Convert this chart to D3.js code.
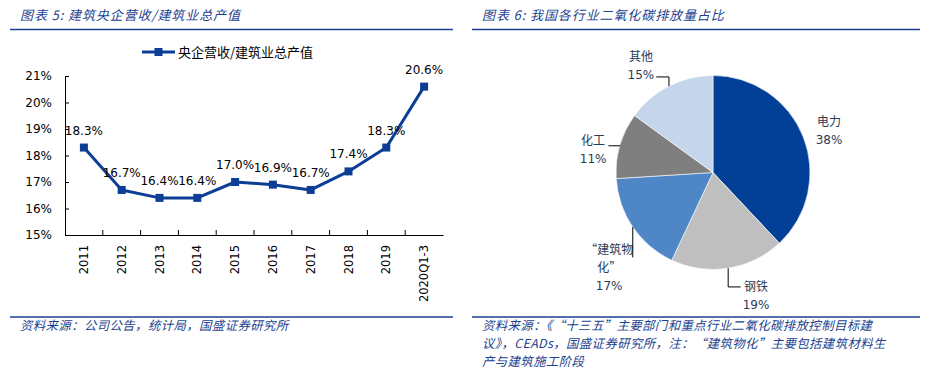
<!DOCTYPE html>
<html>
<head>
<meta charset="utf-8">
<script src="https://cdn.jsdelivr.net/npm/d3@7"></script>
<style>
  body { margin: 0; background: #fff; }
  svg { display: block; }
</style>
</head>
<body>
<div id="chart"></div>
<script>
// left chart: line
const categories = ["2011", "2012", "2013", "2014", "2015", "2016", "2017", "2018", "2019", "2020Q1-3"];
const ratioValues = [18.3, 16.7, 16.4, 16.4, 17.0, 16.9, 16.7, 17.4, 18.3, 20.6];
const yTicks = [15, 16, 17, 18, 19, 20, 21];
const seriesName = "央企营收/建筑业总产值";

// right chart: pie
const sectors = ["电力", "钢铁", "“建筑物化”", "化工", "其他"];
const sectorShares = [38, 19, 17, 11, 15];
const sectorLabelLines = [["电力"], ["钢铁"], ["“建筑物", "化”"], ["化工"], ["其他"]];

const blue = "#1c3f8e";
const lineColor = "#0b3e94";
const pieColors = ["#023f97", "#bfbfbf", "#4f86c6", "#7f7f7f", "#c4d5ec"];
const latin = "'DejaVu Sans', Verdana, sans-serif";
const cjk = "'Noto Sans CJK SC', 'DejaVu Sans', sans-serif";

const svg = d3.select("#chart").append("svg")
    .attr("width", 930)
    .attr("height", 370);

// ---------- panel frames (titles, rules, sources)
function panelFrame(x0, x1, title, sourceLines) {
    svg.append("text")
        .attr("x", x0 + 10).attr("y", 20)
        .attr("font-family", cjk).attr("font-size", "13px")
        .attr("font-style", "italic")
        .attr("letter-spacing", "0.9px")
        .attr("fill", blue)
        .text(title);
    svg.append("line")
        .attr("x1", x0).attr("x2", x1).attr("y1", 29.5).attr("y2", 29.5)
        .attr("stroke", blue).attr("stroke-width", 1.5);
    svg.append("line")
        .attr("x1", x0).attr("x2", x1).attr("y1", 317).attr("y2", 317)
        .attr("stroke", blue).attr("stroke-width", 1.5);
    let src = svg.append("text")
        .attr("font-family", cjk).attr("font-size", "12.4px")
        .attr("font-style", "italic")
        .attr("letter-spacing", "0.4px")
        .attr("fill", blue);
    src.selectAll("tspan")
        .data(sourceLines)
        .enter()
        .append("tspan")
        .attr("x", x0 + 10)
        .attr("y", function(d, i) { return 330 + i * 18; })
        .text(function(d) { return d; });
}
panelFrame(10, 453, "图表 5:  建筑央企营收/建筑业总产值", ["资料来源：公司公告，统计局，国盛证券研究所"]);
panelFrame(472, 920, "图表 6:  我国各行业二氧化碳排放量占比", [
    "资料来源：《“十三五”主要部门和重点行业二氧化碳排放控制目标建",
    "议》，CEADs，国盛证券研究所，注：“建筑物化”主要包括建筑材料生",
    "产与建筑施工阶段"]);

// ---------- left: line chart
let x = d3.scaleBand().domain(categories).range([65, 443]);
let y = d3.scaleLinear().domain([15, 21]).range([235, 76]);

let yAxis = svg.append("g")
    .attr("transform", "translate(65,0)")
    .call(d3.axisLeft(y).tickValues(yTicks).tickSize(-4).tickSizeOuter(0).tickPadding(13)
        .tickFormat(function(d) { return d + "%"; }));
yAxis.selectAll("text").attr("font-family", latin).attr("font-size", "12px").attr("fill", "#000");
yAxis.selectAll("line,path").attr("stroke", "#000");

let xAxis = svg.append("g")
    .attr("transform", "translate(0,235)")
    .call(d3.axisBottom(x).tickSize(0).tickSizeOuter(0));
xAxis.selectAll("path").attr("stroke", "#000");
xAxis.selectAll("text")
    .attr("font-family", latin).attr("font-size", "11.5px").attr("fill", "#000")
    .attr("transform", "rotate(-90)")
    .attr("text-anchor", "end")
    .attr("x", -10).attr("y", 0).attr("dy", "0.36em");
// category separators on the x axis
svg.append("g").selectAll("line")
    .data(categories.slice(1))
    .enter()
    .append("line")
    .attr("x1", function(d) { return x(d); })
    .attr("x2", function(d) { return x(d); })
    .attr("y1", 235).attr("y2", 230)
    .attr("stroke", "#000");

let cx = function(d, i) { return x(categories[i]) + x.bandwidth() / 2; };
svg.append("path")
    .datum(ratioValues)
    .attr("fill", "none")
    .attr("stroke", lineColor)
    .attr("stroke-width", 3)
    .attr("stroke-linejoin", "round")
    .attr("d", d3.line().x(cx).y(function(d) { return y(d); }));
svg.selectAll(".marker")
    .data(ratioValues)
    .enter()
    .append("rect")
    .attr("class", "marker")
    .attr("x", function(d, i) { return cx(d, i) - 4; })
    .attr("y", function(d) { return y(d) - 4; })
    .attr("width", 8).attr("height", 8)
    .attr("fill", lineColor);
svg.selectAll(".vlabel")
    .data(ratioValues)
    .enter()
    .append("text")
    .attr("class", "vlabel")
    .attr("x", cx)
    .attr("y", function(d) { return y(d) - 13; })
    .attr("text-anchor", "middle")
    .attr("font-family", latin).attr("font-size", "12px").attr("fill", "#000")
    .text(function(d) { return d.toFixed(1) + "%"; });

// legend
let legend = svg.append("g").attr("transform", "translate(142,52)");
legend.append("line").attr("x1", 0).attr("x2", 33).attr("stroke", lineColor).attr("stroke-width", 3);
legend.append("rect").attr("x", 12.5).attr("y", -4).attr("width", 8).attr("height", 8).attr("fill", lineColor);
legend.append("text")
    .attr("x", 36).attr("y", 0).attr("dy", "0.36em")
    .attr("font-family", cjk).attr("font-size", "13px").attr("fill", "#000")
    .text(seriesName);

// ---------- right: pie chart
const radius = 97;
const labelRadius = 128;
// label nudges and leader attach (offset from first text line), layout only
const labelLayout = {
    "电力": { dx: -3, dy: 5.5, lead: null },
    "钢铁": { dx: 23, dy: -3, lead: 0 },
    "“建筑物化”": { dx: 2, dy: 23, lead: 8 },
    "化工": { dx: 3, dy: 13, lead: 5 },
    "其他": { dx: -14, dy: 7, lead: 20.5 }
};

let pieG = svg.append("g").attr("transform", "translate(713,172.5)");
let arcs = d3.pie().sort(null).value(function(d) { return d; })(sectorShares);
let arc = d3.arc().innerRadius(0).outerRadius(radius);

pieG.selectAll("path")
    .data(arcs)
    .enter()
    .append("path")
    .attr("d", arc)
    .attr("fill", function(d, i) { return pieColors[i]; })
    .attr("stroke", "#fff")
    .attr("stroke-width", 0.6);

const lineH = 18;
arcs.forEach(function(a, i) {
    let mid = (a.startAngle + a.endAngle) / 2;
    let lay = labelLayout[sectors[i]];
    let lines = sectorLabelLines[i].concat([sectorShares[i] + "%"]);
    let lx = Math.sin(mid) * labelRadius + lay.dx;
    let ly = -Math.cos(mid) * labelRadius + lay.dy;
    let top = ly - (lines.length - 1) * lineH / 2;
    let t = pieG.append("text")
        .attr("text-anchor", "middle")
        .attr("font-size", "12px")
        .attr("fill", "#2b3a55");
    t.selectAll("tspan")
        .data(lines)
        .enter()
        .append("tspan")
        .attr("x", lx)
        .attr("y", function(d, k) { return top + k * lineH; })
        .attr("dy", "0.36em")
        .attr("font-family", function(d) { return /%$/.test(d) ? latin : cjk; })
        .text(function(d) { return d; });
    if (lay.lead === null) return;
    let bb = t.node().getBBox();
    let px = Math.sin(mid) * radius, py = -Math.cos(mid) * radius;
    let ey = top + lay.lead;
    let ex = (bb.x > px) ? bb.x - 2 : bb.x + bb.width + 2;
    if (bb.x <= px && ex > px) ex = px;
    pieG.append("path")
        .attr("d", d3.line()([[px, py], [px, ey], [ex, ey]]))
        .attr("fill", "none")
        .attr("stroke", "#000")
        .attr("stroke-width", 1);
});
</script>
</body>
</html>
